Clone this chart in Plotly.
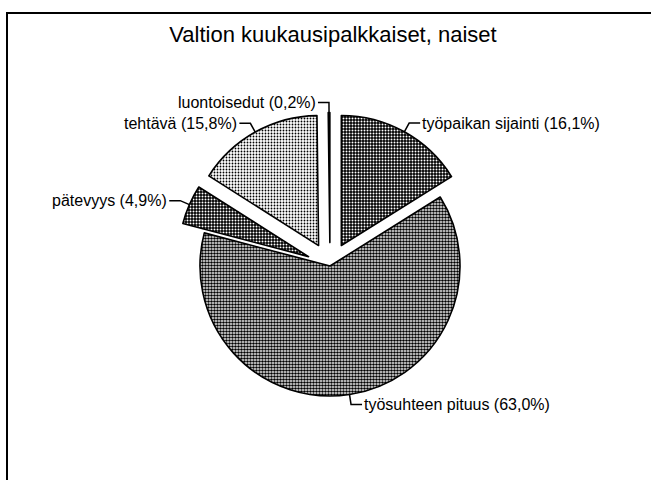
import math
import plotly.graph_objects as go

# ---- data ----
title_text = "Valtion kuukausipalkkaiset, naiset"
labels = ["työpaikan sijainti", "työsuhteen pituus", "pätevyys", "tehtävä", "luontoisedut"]
values = [16.1, 63.0, 4.9, 15.8, 0.2]

# ---- styling / layout ----
pulls = [0.18, 0.0, 0.18, 0.18, 0.18]
pat_bg = ["#000000", "#ffffff", "#000000", "#ffffff", "#ffffff"]
pat_fg = ["#ffffff", "#000000", "#ffffff", "#000000", "#ffffff"]
pat_sol = [0.35, 0.6, 0.35, 0.3, 0.0]

W, H = 651, 480
cx, cy, r = 330.0, 266.0, 130.0
maxpull = max(pulls)
half = r * (1 + maxpull)
dom_x = [(cx - half) / W, (cx + half) / W]
dom_y = [1 - (cy + half) / H, 1 - (cy - half) / H]
FONT = "Liberation Sans, Arial, sans-serif"

fig = go.Figure(go.Pie(
    labels=labels, values=values, sort=False, direction="clockwise", rotation=0,
    pull=pulls, textinfo="none", hoverinfo="skip",
    marker=dict(
        colors=pat_bg,
        line=dict(color="black", width=1.6),
        pattern=dict(shape=".", fillmode="replace", bgcolor=pat_bg, fgcolor=pat_fg,
                     size=3, solidity=pat_sol),
    ),
    domain=dict(x=dom_x, y=dom_y),
    showlegend=False,
))

def px2paper(x, y):
    return x / W, 1 - y / H

shapes = []
annotations = []
total = sum(values)
cum = 0.0
for lab, v, p in zip(labels, values, pulls):
    mid = math.radians(360.0 * (cum + v / 2) / total)
    cum += v
    s, c = math.sin(mid), -math.cos(mid)
    vx, vy = cx + p * r * s, cy + p * r * c
    ax, ay = vx + r * s, vy + r * c
    ex, ey = ax + 10 * s, ay + 10 * c
    side = 1 if s > 0 else -1
    hx = ex + side * 11
    pts = [px2paper(ax, ay), px2paper(ex, ey), px2paper(hx, ey)]
    path = "M {} {} L {} {} L {} {}".format(*[q for pt in pts for q in pt])
    shapes.append(dict(type="path", xref="paper", yref="paper", path=path,
                       line=dict(color="black", width=1.5)))
    tx, ty = px2paper(hx + side * 0, ey)
    txt = "{} ({}%)".format(lab, ("%.1f" % v).replace(".", ","))
    annotations.append(dict(x=tx, y=ty, xref="paper", yref="paper", text=txt,
                            showarrow=False, xanchor="left" if side > 0 else "right",
                            yanchor="middle", font=dict(family=FONT, size=16, color="black")))

# frame
bx0, by0 = px2paper(7, 13)
shapes.append(dict(type="path", xref="paper", yref="paper",
                   path="M {} {} L {} {} L {} {}".format(bx0, 0.0, bx0, by0, 1.0, by0),
                   line=dict(color="black", width=2)))

fig.update_layout(
    width=W, height=H,
    margin=dict(l=0, r=0, t=0, b=0),
    paper_bgcolor="white", plot_bgcolor="white",
    title=dict(text=title_text, x=333 / W, xanchor="center", y=1 - 34 / H, yanchor="middle",
               font=dict(family=FONT, size=22, color="black")),
    shapes=shapes, annotations=annotations,
)

fig.write_html("out.html", config={"displayModeBar": False},
               post_script="document.body.style.margin='0';document.body.style.overflow='hidden';")
